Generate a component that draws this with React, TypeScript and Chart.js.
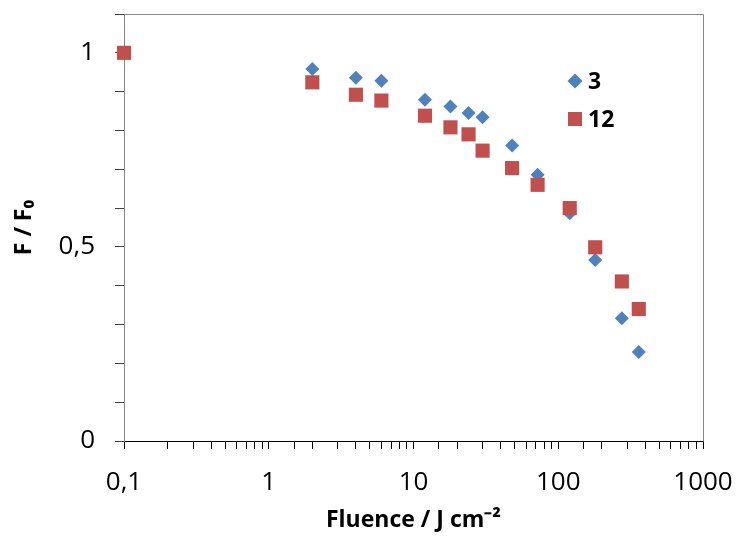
import React, { useEffect, useRef } from 'react';
import { Chart, registerables } from 'chart.js';

Chart.register(...registerables);

// Fluence (J cm^-2)
const fluence = [0.1, 2, 4, 6, 12, 18, 24, 30, 48, 72, 120, 180, 275, 360];
// F / F0 for series "3"
const series3 = [1.0, 0.958, 0.936, 0.928, 0.879, 0.862, 0.845, 0.834, 0.761, 0.686, 0.587, 0.466, 0.316, 0.229];
// F / F0 for series "12"
const series12 = [1.0, 0.924, 0.892, 0.877, 0.838, 0.808, 0.79, 0.748, 0.703, 0.66, 0.6, 0.499, 0.411, 0.34];
const seriesLabels = ['3', '12'];
const xMajorTicks = [0.1, 1, 10, 100, 1000];
const yLabeledTicks = [0, 0.5, 1];

const BLUE = '#4F81BD';
const RED = '#C0504D';
const FONT = 'Open Sans';

const fmt = (v: number) => String(Number(v.toPrecision(6))).replace('.', ',');

const framePlugin = {
  id: 'frame',
  beforeDatasetsDraw(chart: any) {
    const { ctx, chartArea } = chart;
    ctx.save();
    ctx.strokeStyle = '#868686';
    ctx.lineWidth = 1;
    ctx.beginPath();
    const l = Math.round(chartArea.left) + 0.5;
    const t = Math.round(chartArea.top) + 0.5;
    const r = Math.round(chartArea.right) + 0.5;
    const b = Math.round(chartArea.bottom) + 0.5;
    ctx.moveTo(l, t);
    ctx.lineTo(r, t);
    ctx.lineTo(r, b);
    ctx.stroke();
    ctx.restore();
  },
};

const legendPlugin = {
  id: 'insideLegend',
  afterDatasetsDraw(chart: any) {
    const { ctx, chartArea } = chart;
    const x0 = chartArea.left + 451;
    const y0 = chartArea.top + 67;
    const rowGap = 38;
    ctx.save();
    chart.data.datasets.forEach((ds: any, i: number) => {
      const cx = x0;
      const cy = y0 + i * rowGap;
      ctx.fillStyle = ds.backgroundColor;
      ctx.beginPath();
      if (ds.pointStyle === 'rectRot') {
        const r = 7.5;
        ctx.moveTo(cx - r, cy);
        ctx.lineTo(cx, cy - r);
        ctx.lineTo(cx + r, cy);
        ctx.lineTo(cx, cy + r);
        ctx.closePath();
      } else {
        const s = 7;
        ctx.rect(cx - s, cy - s, 2 * s, 2 * s);
      }
      ctx.fill();
      ctx.fillStyle = '#000';
      ctx.font = `bold 23px "${FONT}"`;
      ctx.textAlign = 'left';
      ctx.textBaseline = 'middle';
      ctx.fillText(ds.label, cx + 13, cy + 1);
    });
    ctx.restore();
  },
};

export default function App() {
  const ref = useRef<HTMLCanvasElement | null>(null);

  useEffect(() => {
    document.body.style.margin = '0';
    if (!ref.current) return;
    const chart = new Chart(ref.current, {
      type: 'scatter',
      data: {
        datasets: [
          {
            label: seriesLabels[0],
            data: fluence.map((x, i) => ({ x, y: series3[i] })),
            backgroundColor: BLUE,
            borderColor: BLUE,
            borderWidth: 0,
            pointStyle: 'rectRot',
            pointRadius: 7,
            pointHoverRadius: 7,
            clip: false,
            order: 1,
          },
          {
            label: seriesLabels[1],
            data: fluence.map((x, i) => ({ x, y: series12[i] })),
            backgroundColor: RED,
            borderColor: RED,
            borderWidth: 0,
            pointStyle: 'rect',
            pointRadius: 10,
            pointHoverRadius: 10,
            clip: false,
            order: 0,
          },
        ],
      },
      options: {
        animation: false,
        responsive: true,
        maintainAspectRatio: false,
        layout: { padding: { top: 14, right: 36, left: 0, bottom: 0 } },
        plugins: { legend: { display: false }, tooltip: { enabled: false } },
        scales: {
          x: {
            type: 'logarithmic',
            position: 'bottom',
            min: 0.1,
            max: 1000,
            grid: { display: true, drawOnChartArea: false, drawTicks: true, tickLength: 8, color: '#000', lineWidth: 1 },
            border: { display: true, color: '#000', width: 1 },
            ticks: {
              autoSkip: false,
              maxRotation: 0,
              minRotation: 0,
              padding: 18,
              color: '#000',
              font: { family: FONT, size: 26 },
              callback: (v: any) => {
                const val = Number(v);
                const hit = xMajorTicks.find((m) => Math.abs(m - val) / m < 1e-6);
                return hit !== undefined ? fmt(hit) : '';
              },
            },
            title: {
              display: true,
              text: 'Fluence / J cm⁻²',
              color: '#000',
              font: { family: FONT, size: 23, weight: 'bold' },
              padding: { top: 0, bottom: 3 },
            },
            afterFit: (s: any) => {
              s.height = 96;
              s.paddingLeft = 0;
              s.paddingRight = 0;
            },
          },
          y: {
            type: 'linear',
            min: 0,
            max: 1.1,
            grid: { display: true, drawOnChartArea: false, drawTicks: true, tickLength: 9, color: '#404040', lineWidth: 1 },
            border: { display: true, color: '#868686', width: 1 },
            ticks: {
              stepSize: 0.1,
              autoSkip: false,
              padding: 20,
              color: '#000',
              font: { family: FONT, size: 26 },
              callback: (v: any) => {
                const val = Number(v);
                const hit = yLabeledTicks.find((m) => Math.abs(m - val) < 1e-6);
                return hit !== undefined ? fmt(hit) : '';
              },
            },
            title: {
              display: true,
              text: 'F / F₀',
              color: '#000',
              font: { family: FONT, size: 23, weight: 'bold' },
              padding: { top: 11, bottom: 0 },
            },
            afterFit: (s: any) => {
              s.width = 124;
              s.paddingTop = 0;
              s.paddingBottom = 0;
            },
          },
        },
      },
      plugins: [framePlugin, legendPlugin],
    } as any);
    return () => chart.destroy();
  }, []);

  return (
    <div style={{ position: 'relative', width: 739, height: 537, background: '#fff' }}>
      <canvas ref={ref} />
    </div>
  );
}
